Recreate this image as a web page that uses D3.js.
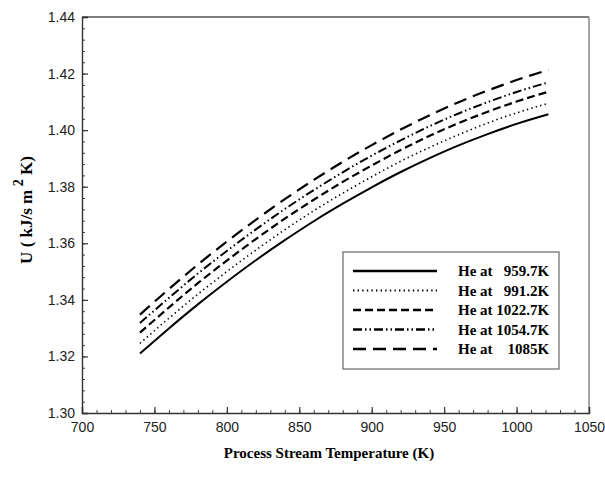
<!DOCTYPE html>
<html>
<head>
<meta charset="utf-8">
<script src="https://cdn.jsdelivr.net/npm/d3@7"></script>
<style>
  body { margin: 0; background: #fff; overflow: hidden; }
  svg { display: block; }
</style>
<script>
// process stream temperature (K)
const temps = [740, 760, 780, 800, 820, 840, 860, 880, 900, 920, 940, 960, 980, 1000, 1022];

// overall heat transfer coefficient, one list per helium inlet temperature
const u959 = [1.3210, 1.3299, 1.3384, 1.3464, 1.3540, 1.3611, 1.3678, 1.3740, 1.3798, 1.3852, 1.3901, 1.3946, 1.3986, 1.4022, 1.4056];
const u991 = [1.3246, 1.3335, 1.3420, 1.3500, 1.3576, 1.3648, 1.3715, 1.3777, 1.3835, 1.3890, 1.3939, 1.3984, 1.4025, 1.4061, 1.4095];
const u1022 = [1.3284, 1.3373, 1.3459, 1.3539, 1.3615, 1.3687, 1.3754, 1.3817, 1.3875, 1.3930, 1.3980, 1.4025, 1.4065, 1.4101, 1.4136];
const u1054 = [1.3318, 1.3407, 1.3493, 1.3573, 1.3649, 1.3721, 1.3788, 1.3851, 1.3910, 1.3964, 1.4014, 1.4059, 1.4099, 1.4135, 1.4169];
const u1085 = [1.3348, 1.3438, 1.3525, 1.3606, 1.3683, 1.3756, 1.3824, 1.3888, 1.3947, 1.4002, 1.4053, 1.4099, 1.4140, 1.4177, 1.4213];

const seriesNames = ['He at   959.7K', 'He at   991.2K', 'He at 1022.7K', 'He at 1054.7K', 'He at    1085K'];

const xTicks = [700, 750, 800, 850, 900, 950, 1000, 1050];
const yTicks = [1.30, 1.32, 1.34, 1.36, 1.38, 1.40, 1.42, 1.44];

window.addEventListener('DOMContentLoaded', () => {
  const W = 605, H = 480;
  const margin = { top: 17, right: 16, bottom: 67, left: 82 };
  const innerWidth = W - margin.left - margin.right;
  const innerHeight = H - margin.top - margin.bottom;

  const svg = d3.select('#chart').attr('width', W).attr('height', H);

  const x = d3.scaleLinear().domain([700, 1050]).range([0, innerWidth]);
  const y = d3.scaleLinear().domain([1.30, 1.44]).range([innerHeight, 0]);

  const chart = svg.append('g')
    .attr('transform', `translate(${margin.left},${margin.top})`);

  // frame (top/right)
  chart.append('line')
    .attr('x1', 0).attr('x2', innerWidth).attr('y1', 0).attr('y2', 0)
    .attr('stroke', '#555').attr('stroke-width', 1.3);
  chart.append('line')
    .attr('x1', innerWidth).attr('x2', innerWidth).attr('y1', 0).attr('y2', innerHeight)
    .attr('stroke', '#888').attr('stroke-width', 1.5);

  // minor ticks (no labels)
  chart.append('g')
    .attr('transform', `translate(0,${innerHeight})`)
    .call(d3.axisBottom(x).tickValues(d3.range(700, 1051, 10)).tickSize(-3).tickFormat(''))
    .call(g => g.select('.domain').remove())
    .call(g => g.selectAll('text').remove())
    .selectAll('line').attr('stroke', '#444');

  chart.append('g')
    .call(d3.axisLeft(y).tickValues(d3.range(0, 36).map(i => 1.30 + i * 0.004)).tickSize(-3).tickFormat(''))
    .call(g => g.select('.domain').remove())
    .call(g => g.selectAll('text').remove())
    .selectAll('line').attr('stroke', '#444');

  // major axes
  const xAxis = chart.append('g')
    .attr('transform', `translate(0,${innerHeight})`)
    .call(d3.axisBottom(x).tickValues(xTicks).tickSize(-6).tickPadding(9).tickFormat(d3.format('d')));
  xAxis.select('.domain').attr('stroke', '#333').attr('stroke-width', 1.4);
  xAxis.selectAll('line').attr('stroke', '#333').attr('stroke-width', 1.2);
  xAxis.selectAll('text')
    .attr('font-family', 'Liberation Sans, Arial, sans-serif')
    .attr('font-size', 14).attr('fill', '#222');

  const yAxis = chart.append('g')
    .call(d3.axisLeft(y).tickValues(yTicks).tickSize(-6).tickPadding(7).tickFormat(d3.format('.2f')));
  yAxis.select('.domain').attr('stroke', '#333').attr('stroke-width', 1.4);
  yAxis.selectAll('line').attr('stroke', '#333').attr('stroke-width', 1.2);
  yAxis.selectAll('text')
    .attr('font-family', 'Liberation Sans, Arial, sans-serif')
    .attr('font-size', 14).attr('fill', '#222');

  // curves
  const styles = [
    { dash: null, width: 2 },
    { dash: '1.4,3.2', width: 1.6 },
    { dash: '8,4', width: 2.2 },
    { dash: '9,3,1.5,3,1.5,3', width: 2 },
    { dash: '13,7', width: 2.2 }
  ];
  const seriesData = [u959, u991, u1022, u1054, u1085];

  const line = d3.line()
    .x(d => x(d[0]))
    .y(d => y(d[1]))
    .curve(d3.curveMonotoneX);

  seriesData.forEach((vals, i) => {
    chart.append('path')
      .datum(temps.map((t, j) => [t, vals[j]]))
      .attr('fill', 'none')
      .attr('stroke', '#000')
      .attr('stroke-width', styles[i].width)
      .attr('stroke-dasharray', styles[i].dash)
      .attr('d', line);
  });

  // legend
  const legend = svg.append('g').attr('transform', 'translate(343,252)');
  legend.append('rect')
    .attr('width', 216).attr('height', 117)
    .attr('fill', '#fff').attr('stroke', '#666').attr('stroke-width', 1.2);

  seriesNames.forEach((name, i) => {
    const ry = 19 + i * 19.5;
    legend.append('line')
      .attr('x1', 10).attr('x2', 94).attr('y1', ry).attr('y2', ry)
      .attr('stroke', '#000')
      .attr('stroke-width', styles[i].width + 0.3)
      .attr('stroke-dasharray', styles[i].dash);
    legend.append('text')
      .attr('x', 115).attr('y', ry + 5)
      .attr('font-family', 'Liberation Serif, Times New Roman, serif')
      .attr('font-weight', 'bold')
      .attr('font-size', 15)
      .style('white-space', 'pre')
      .text(name);
  });

  // axis titles
  svg.append('text')
    .attr('x', 329).attr('y', 458)
    .attr('text-anchor', 'middle')
    .attr('font-family', 'Liberation Serif, Times New Roman, serif')
    .attr('font-weight', 'bold')
    .attr('font-size', 15)
    .text('Process Stream Temperature (K)');

  const yTitle = svg.append('text')
    .attr('transform', 'translate(32,210) rotate(-90)')
    .attr('text-anchor', 'middle')
    .attr('font-family', 'Liberation Serif, Times New Roman, serif')
    .attr('font-weight', 'bold')
    .attr('font-size', 17);
  yTitle.append('tspan').text('U ( kJ/s m');
  yTitle.append('tspan').attr('dy', -9).attr('font-size', 14).text(' 2');
  yTitle.append('tspan').attr('dy', 9).text(' K)');
});
</script>
</head>
<body>
<svg id="chart"></svg>
</body>
</html>
